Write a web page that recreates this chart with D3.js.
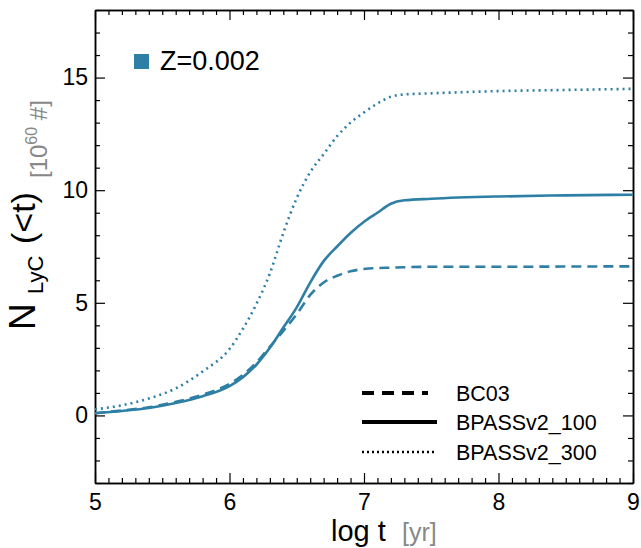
<!DOCTYPE html>
<html><head><meta charset="utf-8">
<script src="https://cdn.jsdelivr.net/npm/d3@7"></script>
<style>body{margin:0;background:#fff}</style>
</head><body><svg id="c" width="641" height="548"></svg>
<script>
const logT = [5.0,5.2,5.4,5.6,5.8,6.0,6.1,6.2,6.3,6.4,6.5,6.6,6.7,6.8,6.9,7.0,7.1,7.2,7.3,7.5,8.0,8.5,9.0];
const bc03 = [0.1,0.22,0.36,0.6,0.92,1.4,1.8,2.35,3.05,3.75,4.5,5.35,5.9,6.2,6.4,6.5,6.54,6.56,6.58,6.6,6.6,6.61,6.62];
const bpass100 = [0.1,0.2,0.33,0.55,0.85,1.3,1.7,2.25,3.0,3.9,4.8,5.9,6.85,7.5,8.1,8.6,9.0,9.4,9.55,9.62,9.72,9.77,9.8];
const bpass300 = [0.27,0.45,0.75,1.2,1.95,2.95,3.85,4.95,6.3,8.1,9.65,10.8,11.6,12.4,13.0,13.45,13.85,14.15,14.25,14.3,14.4,14.45,14.5];
const xMajor = [5,6,7,8,9];
const yMajor = [0,5,10,15];
const seriesNames = ["BC03","BPASSv2_100","BPASSv2_300"];
const metalLabel = "Z=0.002";

const color = "#2e7fa6";
const svg = d3.select("#c");
const L=95, R=633, T=10, B=483;
const x = d3.scaleLinear().domain([5,9]).range([L,R]);
const y = d3.scaleLinear().domain([-3,18]).range([B,T]);
const font = "'Liberation Sans', Arial, Helvetica, sans-serif";

const xMinor = d3.range(50,91).map(d=>d/10).filter(d=>!xMajor.includes(d));
const yMinor = d3.range(-3,19).filter(d=>!yMajor.includes(d));

function drawAxis(gen, transform, ticks, size, labels){
  const g = svg.append("g").attr("transform",transform)
    .call(gen.tickValues(ticks).tickSize(size).tickSizeOuter(0).tickFormat(labels?d3.format("d"):""));
  g.select(".domain").attr("stroke","#000").attr("stroke-width",1.5);
  g.selectAll(".tick line").attr("stroke","#000").attr("stroke-width",1.2);
  g.selectAll("text").attr("font-family",font).attr("font-size",23).attr("fill","#000");
  return g;
}
// bottom
drawAxis(d3.axisBottom(x), `translate(0,${B})`, xMinor, -5, false);
const gb = drawAxis(d3.axisBottom(x), `translate(0,${B})`, xMajor, -10, true);
gb.selectAll("text").attr("y",27).attr("dy",0);
// top
drawAxis(d3.axisTop(x), `translate(0,${T})`, xMinor, -5, false);
drawAxis(d3.axisTop(x), `translate(0,${T})`, xMajor, -10, false);
// left
drawAxis(d3.axisLeft(y), `translate(${L},0)`, yMinor, -5, false);
const gl = drawAxis(d3.axisLeft(y), `translate(${L},0)`, yMajor, -10, true);
gl.selectAll("text").attr("x",-7);
// right
drawAxis(d3.axisRight(y), `translate(${R},0)`, yMinor, -5, false);
drawAxis(d3.axisRight(y), `translate(${R},0)`, yMajor, -10, false);

const line = d3.line().x((d,i)=>x(logT[i])).y(d=>y(d)).curve(d3.curveMonotoneX);
const styles = [
  {data:bc03, dash:"10,6", w:2.6},
  {data:bpass100, dash:null, w:2.6},
  {data:bpass300, dash:"2,4", w:2.6}
];
const plot = svg.append("g");
styles.forEach(s=>{
  plot.append("path").attr("d",line(s.data)).attr("fill","none")
    .attr("stroke",color).attr("stroke-width",s.w)
    .attr("stroke-dasharray",s.dash);
});

// legend metallicity
svg.append("rect").attr("x",134).attr("y",54).attr("width",15).attr("height",15).attr("fill",color);
svg.append("text").attr("x",160).attr("y",70).attr("font-family",font).attr("font-size",27).text(metalLabel);

// line-style legend
const lgY=[393,422,452];
const lgStyles=[{dash:"12,8",w:4,x2:428},{dash:null,w:4,x2:437},{dash:"2,3",w:2.5,x2:437}];
seriesNames.forEach((n,i)=>{
  svg.append("line").attr("x1",362).attr("x2",lgStyles[i].x2).attr("y1",lgY[i]).attr("y2",lgY[i])
    .attr("stroke","#000").attr("stroke-width",lgStyles[i].w).attr("stroke-dasharray",lgStyles[i].dash);
  svg.append("text").attr("x",456).attr("y",lgY[i]+8).attr("font-family",font).attr("font-size",21.5).text(n);
});

// x title
svg.append("text").attr("x",331).attr("y",541).attr("font-family",font)
  .attr("font-size",29).attr("fill","#000").text("log t");
svg.append("text").attr("x",402).attr("y",541).attr("font-family",font)
  .attr("font-size",25).attr("fill","#888").text("[yr]");

// y title (rotated pieces; x = -screenY start, y = baseline screen x)
const yt = svg.append("g").attr("transform","rotate(-90)").attr("font-family",font);
yt.append("text").attr("x",-330).attr("y",35).attr("font-size",37).attr("fill","#000").text("N");
yt.append("text").attr("x",-294).attr("y",43).attr("font-size",22).attr("fill","#000").text("LyC");
yt.append("text").attr("x",-244).attr("y",35).attr("font-size",34).attr("fill","#000").text("(<t)");
const gt = yt.append("text").attr("x",-178).attr("y",47).attr("font-size",24).attr("fill","#888");
gt.append("tspan").text("[10");
gt.append("tspan").attr("font-size",16).attr("dy",-10).text("60");
gt.append("tspan").attr("dy",10).text(" #]");
</script></body></html>
